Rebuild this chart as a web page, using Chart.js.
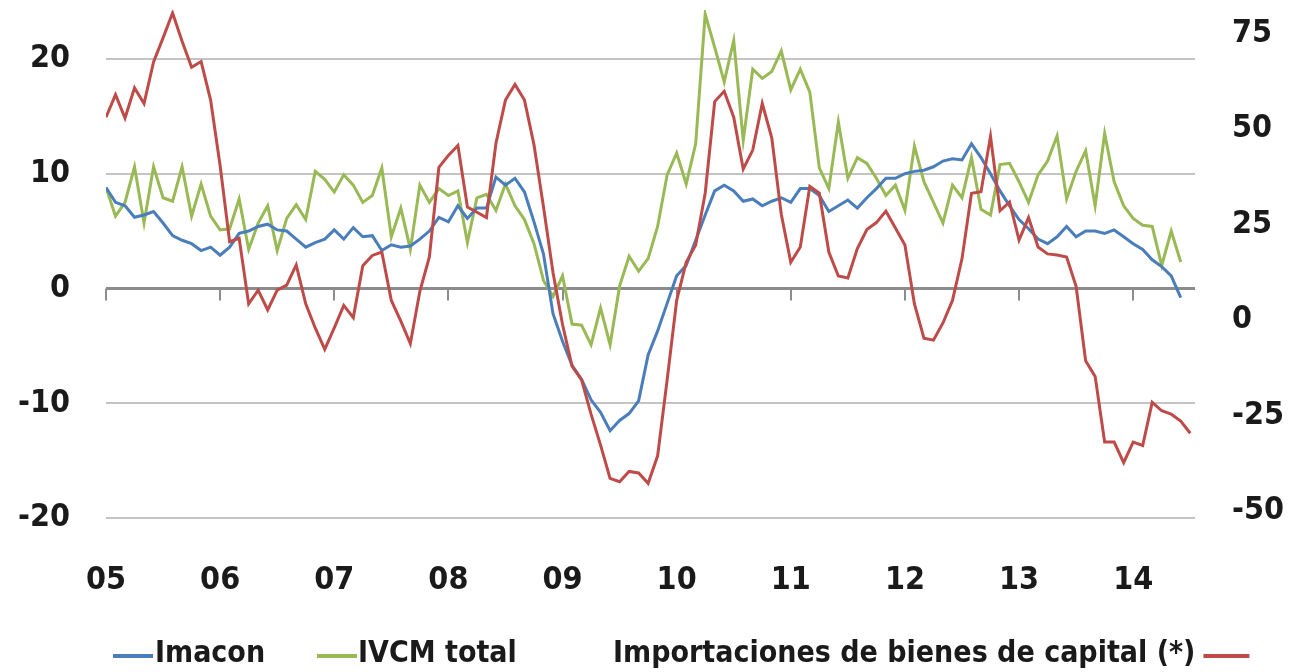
<!DOCTYPE html>
<html>
<head>
<meta charset="utf-8">
<script src="https://cdn.jsdelivr.net/npm/chart.js@4.4.1/dist/chart.umd.min.js"></script>
<style>
  html, body { margin: 0; padding: 0; background: #fff; }
  #chart { display: block; }
</style>
</head>
<body>
<canvas id="chart" width="1294" height="672"></canvas>
<script>
// ======================================
// DATA (monthly, Jan 2005 onwards)
// ======================================
const yearLabels = ["05", "06", "07", "08", "09", "10", "11", "12", "13", "14"];
const leftTicks = [-20, -10, 0, 10, 20];
const rightTicks = [-50, -25, 0, 25, 50, 75];

// Imacon (left axis)
const imacon = [
    8.8, 7.5, 7.2, 6.2, 6.4, 6.7, 5.7, 4.6, 4.2, 3.9, 3.3, 3.6,
    2.9, 3.6, 4.8, 5.0, 5.4, 5.6, 5.1, 5.0, 4.3, 3.6, 4.0, 4.3,
    5.1, 4.3, 5.3, 4.5, 4.6, 3.3, 3.8, 3.6, 3.7, 4.3, 5.0, 6.2,
    5.8, 7.2, 6.1, 7.0, 7.0, 9.7, 9.0, 9.6, 8.4, 5.8, 3.0, -2.2,
    -4.6, -6.7, -7.9, -9.7, -10.8, -12.4, -11.5, -10.9, -9.8, -5.8, -3.7, -1.3,
    1.1, 2.0, 4.2, 6.4, 8.5, 9.0, 8.5, 7.6, 7.8, 7.2, 7.6, 7.9,
    7.5, 8.7, 8.7, 8.1, 6.7, 7.2, 7.7, 7.0, 7.9, 8.7, 9.6, 9.6,
    10.0, 10.2, 10.3, 10.6, 11.1, 11.3, 11.2, 12.6, 11.4, 10.0, 8.5, 7.2,
    6.0, 5.2, 4.3, 3.9, 4.5, 5.4, 4.5, 5.0, 5.0, 4.8, 5.1, 4.5,
    3.9, 3.4, 2.5, 1.9, 1.1, -0.8
];

// IVCM total (left axis)
const ivcm = [
    8.8, 6.3, 7.5, 10.6, 5.7, 10.6, 7.9, 7.6, 10.6, 6.3, 9.1, 6.3,
    5.1, 5.2, 7.8, 3.4, 5.7, 7.2, 3.3, 6.1, 7.3, 6.0, 10.2, 9.5,
    8.4, 9.9, 9.0, 7.5, 8.1, 10.5, 4.5, 7.0, 3.4, 9.0, 7.5, 8.7,
    8.1, 8.5, 4.0, 7.9, 8.2, 6.8, 9.1, 7.2, 6.0, 3.9, 0.7, -0.7,
    1.1, -3.1, -3.2, -4.9, -1.7, -4.9, 0.2, 2.8, 1.5, 2.6, 5.4, 9.9,
    11.8, 9.1, 12.6, 23.9, 21.0, 18.0, 21.6, 12.9, 19.1, 18.3, 18.9, 20.7,
    17.3, 19.1, 17.1, 10.5, 8.7, 14.5, 9.6, 11.4, 10.9, 9.6, 8.1, 9.0,
    6.8, 12.4, 9.3, 7.5, 5.7, 9.0, 7.9, 11.4, 6.9, 6.4, 10.8, 10.9,
    9.3, 7.5, 9.9, 11.1, 13.3, 7.8, 10.2, 12.0, 7.2, 13.5, 9.3, 7.2,
    6.1, 5.5, 5.4, 2.0, 5.0, 2.3
];

// Importaciones de bienes de capital (right axis)
const importaciones = [
    53.1, 59.0, 52.9, 60.8, 56.7, 67.6, 73.9, 80.4, 73.0, 66.2, 67.7, 57.6,
    40.4, 20.5, 21.4, 4.2, 7.8, 2.6, 7.8, 9.1, 14.4, 4.2, -2.1, -7.7,
    -2.1, 3.8, 0.6, 14.2, 16.9, 17.8, 5.1, -0.3, -6.2, 7.5, 16.5, 40.0,
    43.1, 45.7, 29.6, 28.2, 26.8, 46.3, 57.6, 61.7, 57.6, 45.9, 29.6, 12.4,
    -1.2, -12.1, -15.7, -24.7, -32.8, -41.5, -42.4, -39.7, -40.1, -42.8, -35.6, -15.7,
    5.1, 15.1, 19.6, 33.2, 57.2, 59.9, 53.1, 39.5, 44.5, 56.7, 47.7, 27.7,
    15.1, 19.1, 35.0, 33.2, 17.8, 11.5, 11.0, 18.7, 23.7, 25.5, 28.5, 24.1,
    19.6, 4.2, -4.8, -5.3, -0.8, 5.1, 16.0, 33.2, 33.6, 48.1, 28.6, 30.9,
    20.9, 26.8, 19.1, 17.3, 17.0, 16.5, 8.8, -10.7, -14.8, -32.0, -32.0, -37.4,
    -32.0, -32.9, -21.6, -23.8, -24.7, -26.5, -29.7
];

// ======================================
// STYLE
// ======================================
const FONT = "'DejaVu Sans Condensed', 'DejaVu Sans', sans-serif";
const TEXT = "#1a1a1a";
const BLUE = "#4a7ebb";
const GREEN = "#98b954";
const RED = "#be4b48";

const toPoints = arr => arr.map((v, i) => ({ x: i, y: v }));

// year tick marks hanging from the zero line
const zeroTicks = {
    id: "zeroTicks",
    beforeDatasetsDraw(chart) {
        const { ctx, scales } = chart;
        const y0 = scales.y.getPixelForValue(0);
        ctx.save();
        ctx.strokeStyle = "#8c8c8c";
        ctx.lineWidth = 2;
        scales.x.ticks.forEach(t => {
            const x = Math.round(scales.x.getPixelForValue(t.value));
            ctx.beginPath();
            ctx.moveTo(x, y0);
            ctx.lineTo(x, y0 + 12);
            ctx.stroke();
        });
        ctx.restore();
    }
};

// legend row at the bottom (red item has its swatch after the text)
const bottomLegend = {
    id: "bottomLegend",
    afterDraw(chart) {
        const ctx = chart.ctx;
        const lineY = 656;
        const textY = 662;
        ctx.save();
        ctx.font = "bold 30px " + FONT;
        ctx.fillStyle = TEXT;
        ctx.textBaseline = "alphabetic";
        ctx.lineWidth = 4;

        const swatch = (x1, x2, color) => {
            ctx.strokeStyle = color;
            ctx.beginPath();
            ctx.moveTo(x1, lineY);
            ctx.lineTo(x2, lineY);
            ctx.stroke();
        };

        swatch(113, 153, BLUE);
        ctx.fillText("Imacon", 155, textY);

        swatch(317, 357, GREEN);
        ctx.fillText("IVCM total", 358, textY);

        const label = "Importaciones de bienes de capital (*)";
        ctx.fillText(label, 613, textY);
        const end = 613 + ctx.measureText(label).width;
        swatch(end + 8, end + 54, RED);
        ctx.restore();
    }
};

// ======================================
// CHART
// ======================================
const tickFont = { family: FONT, size: 32, weight: "bold" };

new Chart(document.getElementById("chart"), {
    type: "line",
    data: {
        datasets: [
            {
                label: "Importaciones de bienes de capital (*)",
                data: toPoints(importaciones),
                yAxisID: "y1",
                borderColor: RED,
                borderWidth: 3,
                pointRadius: 0,
                tension: 0,
                order: 0
            },
            {
                label: "Imacon",
                data: toPoints(imacon),
                yAxisID: "y",
                borderColor: BLUE,
                borderWidth: 3,
                pointRadius: 0,
                tension: 0,
                order: 1
            },
            {
                label: "IVCM total",
                data: toPoints(ivcm),
                yAxisID: "y",
                borderColor: GREEN,
                borderWidth: 3,
                pointRadius: 0,
                tension: 0,
                order: 2
            }
        ]
    },
    options: {
        responsive: false,
        animation: false,
        layout: { padding: { top: 10, left: 0, right: 0, bottom: 0 } },
        plugins: {
            legend: { display: false },
            tooltip: { enabled: false }
        },
        scales: {
            x: {
                type: "linear",
                min: 0,
                max: 114.5,
                grid: { display: false },
                border: { display: false },
                afterBuildTicks: s => {
                    s.ticks = yearLabels.map((_, i) => ({ value: i * 12 }));
                },
                ticks: {
                    autoSkip: false,
                    maxRotation: 0,
                    padding: 35,
                    font: tickFont,
                    color: TEXT,
                    callback: v => yearLabels[v / 12]
                },
                afterFit: s => {
                    s.height = 154;
                    s.paddingLeft = 0;
                    s.paddingRight = 0;
                }
            },
            y: {
                position: "left",
                min: -20,
                max: 24.26,
                afterBuildTicks: s => {
                    s.ticks = leftTicks.map(v => ({ value: v }));
                },
                grid: {
                    drawTicks: false,
                    color: c => (c.tick && c.tick.value === 0 ? "#8c8c8c" : "#c4c4c4"),
                    lineWidth: c => (c.tick && c.tick.value === 0 ? 3 : 2)
                },
                border: { display: false },
                ticks: { padding: 36, font: tickFont, color: TEXT },
                afterFit: s => {
                    s.width = 106;
                    s.paddingTop = 0;
                    s.paddingBottom = 0;
                }
            },
            y1: {
                position: "right",
                min: -51.9,
                max: 81.2,
                afterBuildTicks: s => {
                    s.ticks = rightTicks.map(v => ({ value: v }));
                },
                grid: { display: false, drawTicks: false },
                border: { display: false },
                ticks: { padding: 37, font: tickFont, color: TEXT },
                afterFit: s => {
                    s.width = 99;
                    s.paddingTop = 0;
                    s.paddingBottom = 0;
                }
            }
        }
    },
    plugins: [zeroTicks, bottomLegend]
});
</script>
</body>
</html>
